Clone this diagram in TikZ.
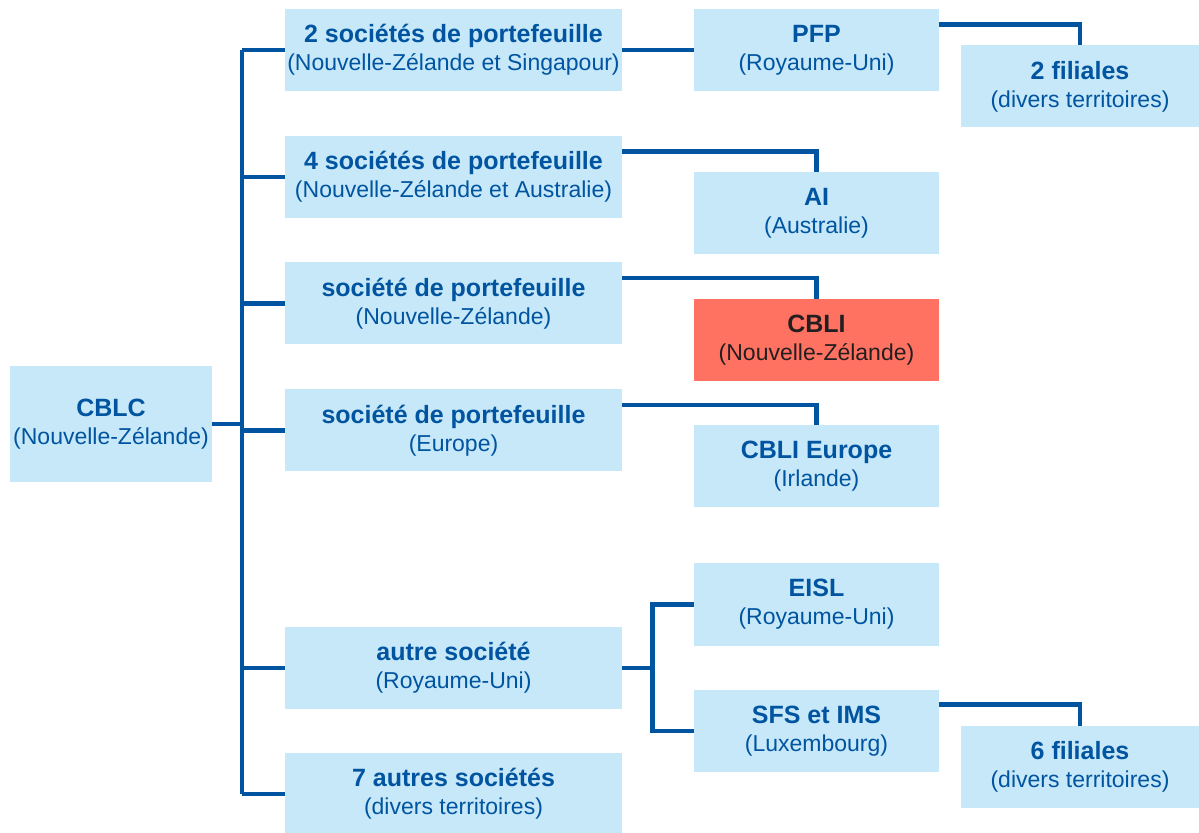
\documentclass[tikz,border=0pt]{standalone}
\usepackage{fontspec}
\setmainfont{Liberation Sans}
\usetikzlibrary{calc}
\definecolor{GroupInk}{HTML}{0054A0}
\definecolor{GroupPaper}{HTML}{C6E8F8}
\definecolor{GroupFocus}{HTML}{FF7262}
\definecolor{GroupDark}{HTML}{231F20}
\tikzset{
  every node/.style={text=GroupInk, font=\fontsize{11.5}{14}\selectfont},
  entity/.style={fill=GroupPaper, inner sep=0pt, align=center, minimum height=41pt},
  parent/.style={entity, minimum width=101pt, minimum height=58pt},
  holding/.style={entity, minimum width=168.5pt},
  company/.style={entity, minimum width=122.5pt},
  branch/.style={entity, minimum width=119pt},
  focus/.style={company, fill=GroupFocus, text=GroupDark},
  link/.style={draw=GroupInk, line width=2.2pt, line join=miter},
}
\newcommand{\tname}[1]{{\fontsize{12.5}{14}\selectfont\bfseries #1}}

\begin{document}
\begin{tikzpicture}[x=0.5pt,y=-0.5pt]
  \useasboundingbox (0,0) rectangle (1199,833);
  % parent
  \node[parent] (cblc) at (111,424) {\tname{CBLC}\\(Nouvelle-Zélande)};
  % holdings
  \node[holding] (h1) at (453.5,50) {\tname{2 sociétés de portefeuille}\\(Nouvelle-Zélande et Singapour)};
  \node[holding] (h2) at (453.5,177) {\tname{4 sociétés de portefeuille}\\(Nouvelle-Zélande et Australie)};
  \node[holding] (h3) at (453.5,303.5) {\tname{société de portefeuille}\\(Nouvelle-Zélande)};
  \node[holding] (h4) at (453.5,430.5) {\tname{société de portefeuille}\\(Europe)};
  \node[holding] (h5) at (453.5,668) {\tname{autre société}\\(Royaume-Uni)};
  \node[holding] (h6) at (453.5,794) {\tname{7 autres sociétés}\\(divers territoires)};
  % operating companies
  \node[company] (pfp) at (816.5,50) {\tname{PFP}\\(Royaume-Uni)};
  \node[company] (ai) at (816.5,213) {\tname{AI}\\(Australie)};
  \node[focus] (cbli) at (816.5,340) {\tname{CBLI}\\(Nouvelle-Zélande)};
  \node[company] (cblie) at (816.5,466) {\tname{CBLI Europe}\\(Irlande)};
  \node[company] (eisl) at (816.5,604.5) {\tname{EISL}\\(Royaume-Uni)};
  \node[company] (sfs) at (816.5,731) {\tname{SFS et IMS}\\(Luxembourg)};
  % subsidiaries
  \node[branch] (fil2) at (1080,86.5) {\tname{2 filiales}\\(divers territoires)};
  \node[branch] (fil6) at (1080,767) {\tname{6 filiales}\\(divers territoires)};
  % trunk
  \coordinate (trunk) at (242,0);
  \draw[link] (cblc.east) -- (trunk |- cblc.east);
  \draw[link] (trunk |- h1.west) -- (trunk |- h6.west);
  \foreach \h in {h1,h2,h3,h4,h5,h6}
    \draw[link] (trunk |- \h.west) -- (\h.west);
  % holdings to companies
  \draw[link] (h1.east) -- (pfp.west);
  \draw[link] ([yshift=-8pt]h2.north east) -| (ai.north);
  \draw[link] ([yshift=-8pt]h3.north east) -| (cbli.north);
  \draw[link] ([yshift=-8pt]h4.north east) -| (cblie.north);
  \draw[link] (h5.east) -- ++(30,0) coordinate (fork);
  \draw[link] (eisl.west) -| (fork) |- (sfs.west);
  % companies to subsidiaries
  \draw[link] ([yshift=-8pt]pfp.north east) -| (fil2.north);
  \draw[link] ([yshift=-7.5pt]sfs.north east) -| (fil6.north);
\end{tikzpicture}
\end{document}
